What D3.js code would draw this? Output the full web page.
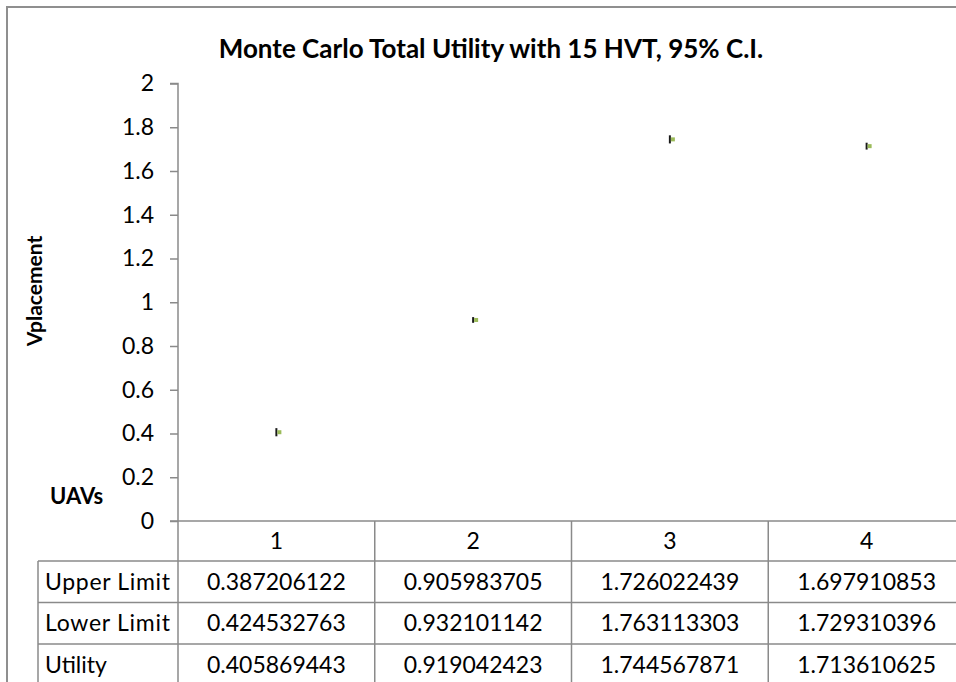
<!DOCTYPE html>
<html>
<head>
<meta charset="utf-8">
<script src="https://cdn.jsdelivr.net/npm/d3@7"></script>
<style>
  html, body { margin: 0; padding: 0; background: #fff; }
  svg { display: block; font-family: Lato, "Open Sans", sans-serif; }
</style>
</head>
<body>
<svg id="chart" width="956" height="682"></svg>
<script>
// Monte Carlo results per number of UAVs
const categories = [1, 2, 3, 4];
const upperLimit = [0.387206122, 0.905983705, 1.726022439, 1.697910853];
const lowerLimit = [0.424532763, 0.932101142, 1.763113303, 1.729310396];
const utility    = [0.405869443, 0.919042423, 1.744567871, 1.713610625];
const yTicks = [0, 0.2, 0.4, 0.6, 0.8, 1, 1.2, 1.4, 1.6, 1.8, 2];
const rowNames = ["Upper Limit", "Lower Limit", "Utility"];

const svg = d3.select("#chart");
const gridColor = "#8a8a8a";

// chart frame (continues past the right and bottom edges)
svg.append("path")
  .attr("d", "M7,700 V7 H980")
  .attr("fill", "none").attr("stroke", "#8f8f8f").attr("stroke-width", 2);

const plotLeft = 178, plotRight = 965, plotTop = 83.5, plotBottom = 521;
const x = d3.scaleBand().domain(categories).range([plotLeft, plotRight]);
const y = d3.scaleLinear().domain([0, 2]).range([plotBottom, plotTop]);

// title
svg.append("text")
  .attr("x", 491).attr("y", 58)
  .attr("text-anchor", "middle")
  .attr("font-weight", "bold").attr("font-size", 26)
  .text("Monte Carlo Total Utility with 15 HVT, 95% C.I.");

// y axis
const yAxis = d3.axisLeft(y).tickValues(yTicks).tickSize(8).tickPadding(16)
  .tickFormat(d => String(d));
const gy = svg.append("g").attr("transform", `translate(${plotLeft},0)`).call(yAxis);
gy.select(".domain").attr("stroke", gridColor).attr("stroke-width", 1.5).attr("d", `M-8,${plotTop}H0V${plotBottom}`);
gy.selectAll(".tick line").attr("stroke", gridColor).attr("stroke-width", 1.5);
gy.selectAll(".tick text").attr("font-size", 23).attr("fill", "#000")
  .attr("font-family", "Lato, 'Open Sans', sans-serif");

// axis titles
svg.append("text")
  .attr("transform", `translate(42,${291}) rotate(-90)`)
  .attr("text-anchor", "middle")
  .attr("font-weight", "bold").attr("font-size", 21)
  .text("Vplacement");
svg.append("text")
  .attr("x", 50).attr("y", 504)
  .attr("font-weight", "bold").attr("font-size", 22)
  .text("UAVs");

// data table under the category axis
const tableLeft = 38, rowH = 41.5, headerTop = plotBottom, headerBottom = 561;
const rowTops = rowNames.map((_, i) => headerBottom + i * rowH);
const table = svg.append("g");
const lines = [];
lines.push([plotLeft - 8, plotBottom, plotRight + 20, plotBottom]);
rowTops.forEach(t => lines.push([tableLeft, t, plotRight + 20, t]));
lines.push([tableLeft, headerBottom, tableLeft, 700]);
lines.push([plotLeft, plotBottom, plotLeft, 700]);
categories.forEach(c => lines.push([x(c) + x.bandwidth(), plotBottom, x(c) + x.bandwidth(), 700]));
table.selectAll("line").data(lines).join("line")
  .attr("x1", d => d[0]).attr("y1", d => d[1]).attr("x2", d => d[2]).attr("y2", d => d[3])
  .attr("stroke", gridColor).attr("stroke-width", 1.5);

table.selectAll("text.cat").data(categories).join("text").attr("class", "cat")
  .attr("x", d => x(d) + x.bandwidth() / 2).attr("y", (headerTop + headerBottom) / 2 + 8)
  .attr("text-anchor", "middle").attr("font-size", 23).text(d => d);

const rows = [upperLimit, lowerLimit, utility];
rows.forEach((vals, i) => {
  const cy = rowTops[i] + rowH / 2 + 8;
  table.append("text").attr("x", 45).attr("y", cy).attr("font-size", 23)
    .attr("textLength", i === 2 ? null : 125).text(rowNames[i]);
  table.selectAll(`text.v${i}`).data(vals).join("text").attr("class", `v${i}`)
    .attr("x", (d, j) => x(categories[j]) + x.bandwidth() / 2).attr("y", cy)
    .attr("text-anchor", "middle").attr("font-size", 23).text(d => String(d));
});

// confidence interval markers and utility points
const marks = svg.append("g");
marks.selectAll("line.ci").data(categories).join("line").attr("class", "ci")
  .attr("x1", d => x(d) + x.bandwidth() / 2).attr("x2", d => x(d) + x.bandwidth() / 2)
  .attr("y1", (d, i) => y(upperLimit[i])).attr("y2", (d, i) => y(lowerLimit[i]))
  .attr("stroke", "#1a1a1a").attr("stroke-width", 2);
marks.selectAll("rect.util").data(categories).join("rect").attr("class", "util")
  .attr("x", d => x(d) + x.bandwidth() / 2 + 1).attr("y", (d, i) => y(utility[i]) - 2)
  .attr("width", 4).attr("height", 4)
  .attr("fill", "#9bbb59");
</script>
</body>
</html>
